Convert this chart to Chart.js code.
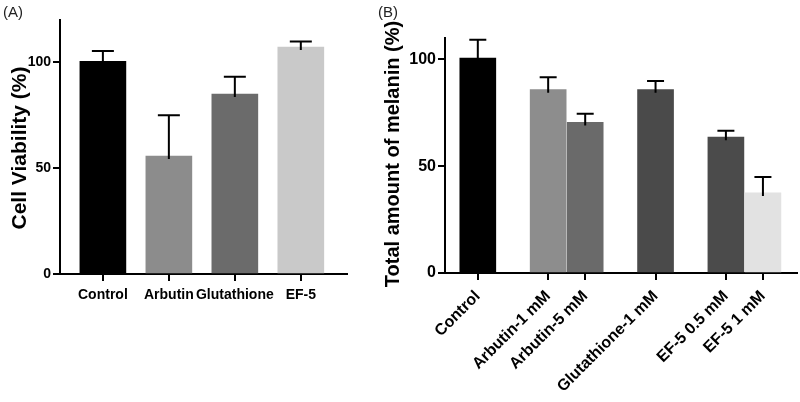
<!DOCTYPE html>
<html><head><meta charset="utf-8">
<script src="https://cdn.jsdelivr.net/npm/chart.js@4.4.1/dist/chart.umd.min.js"></script>
<style>
html,body{margin:0;padding:0;background:#fff;width:800px;height:402px;overflow:hidden;}
#wa{position:absolute;left:0;top:0;width:380px;height:402px;}
#wb{position:absolute;left:380px;top:0;width:420px;height:402px;}
.lab{position:absolute;font:15px 'Liberation Sans',Arial,sans-serif;color:#222;}
</style></head><body>
<div id="wa"><canvas id="ca"></canvas></div>
<div id="wb"><canvas id="cb"></canvas></div>
<div class="lab" style="left:3px;top:3px">(A)</div>
<div class="lab" style="left:378px;top:3px">(B)</div>
<script>
// ---- Data: panel A ----
const categoriesA = ['Control', 'Arbutin', 'Glutathione', 'EF-5'];
const viabilityA = [100.5, 55.7, 85.0, 107.2];
const viabilityErrA = [4.8, 19.3, 8.2, 2.6];
const yTicksA = [0, 50, 100];

// ---- Data: panel B ----
const categoriesB = ['Control', 'Arbutin-1 mM', 'Arbutin-5 mM', 'Glutathione-1 mM', 'EF-5 0.5 mM', 'EF-5 1 mM'];
const melaninB = [100.6, 85.8, 70.5, 85.8, 63.6, 37.5];
const melaninErrB = [8.6, 5.8, 4.0, 4.1, 3.0, 7.4];
const groupB = [0, 1, 1, 2, 3, 3];
const yTicksB = [0, 50, 100];

// ---- Styles ----
const colorsA = ['#000000', '#8c8c8c', '#6b6b6b', '#c9c9c9'];
const colorsB = ['#000000', '#8d8d8d', '#6a6a6a', '#4a4a4a', '#4b4b4b', '#e2e2e2'];
const FONT = "'Liberation Sans', Arial, sans-serif";
const GROUP_GAP = 0.9;

const errPlugin = {
  id: 'errbars',
  afterDatasetsDraw(chart) {
    const ds = chart.data.datasets[0];
    const meta = chart.getDatasetMeta(0);
    const ys = chart.scales.y;
    const ctx = chart.ctx;
    ctx.save();
    ctx.strokeStyle = '#000';
    ctx.lineWidth = 2;
    meta.data.forEach((bar, i) => {
      const v = ds.data[i].y, e = ds.errors[i];
      const x = bar.x;
      const yTop = ys.getPixelForValue(v + e);
      const yV = ys.getPixelForValue(v);
      ctx.beginPath();
      ctx.moveTo(x, yV + 3); ctx.lineTo(x, yTop);
      ctx.moveTo(x - ds.cap / 2, yTop); ctx.lineTo(x + ds.cap / 2, yTop);
      ctx.stroke();
    });
    ctx.restore();
  }
};

// rotated y-axis title drawn at a chosen place in the left margin
const yTitlePlugin = {
  id: 'ytitle',
  afterDraw(chart) {
    const t = chart.config.options.yTitleCfg;
    const ctx = chart.ctx;
    ctx.save();
    ctx.translate(t.x, t.y);
    ctx.rotate(-Math.PI / 2);
    ctx.font = 'bold ' + t.size + 'px ' + FONT;
    ctx.fillStyle = '#000';
    ctx.textAlign = 'center';
    ctx.textBaseline = 'middle';
    ctx.fillText(t.text, 0, 0);
    ctx.restore();
  }
};

function axisGrid() {
  return { display: true, offset: false, drawOnChartArea: false, drawTicks: true, tickLength: 7, lineWidth: 2, color: '#000' };
}

function makeChart(el, cfg) {
  return new Chart(el, {
    type: 'bar',
    data: { datasets: [{
      data: cfg.cats.map((c, i) => ({ x: cfg.pos[i], y: cfg.vals[i] })),
      backgroundColor: cfg.colors, borderWidth: 0, barThickness: cfg.barW,
      errors: cfg.errs, cap: cfg.cap
    }] },
    options: {
      responsive: true, maintainAspectRatio: false, animation: false,
      layout: { padding: cfg.padding },
      yTitleCfg: cfg.ytitle,
      plugins: { legend: { display: false }, tooltip: { enabled: false } },
      scales: {
        x: {
          type: 'linear', offset: false, min: cfg.xmin, max: cfg.xmax,
          afterBuildTicks: s => { s.ticks = cfg.pos.map(p => ({ value: p })); },
          afterFit: s => { s.height = cfg.xh; s.paddingLeft = 0; s.paddingRight = 0; },
          grid: axisGrid(),
          border: { display: true, width: 2, color: '#000' },
          ticks: { autoSkip: false, maxRotation: cfg.rot, minRotation: cfg.rot, padding: cfg.xpad, color: '#000',
            font: { family: FONT, size: cfg.xfont, weight: 'bold' }, callback: (v, i) => cfg.cats[i] }
        },
        y: {
          min: 0, max: cfg.ymax,
          afterBuildTicks: s => { s.ticks = cfg.yticks.map(v => ({ value: v })); },
          afterFit: s => { s.width = cfg.yw; },
          grid: axisGrid(),
          border: { display: true, width: 2, color: '#000' },
          ticks: { padding: 2, color: '#000', font: { family: FONT, size: cfg.yfont, weight: 'bold' } },
          title: { display: false }
        }
      }
    },
    plugins: [errPlugin, yTitlePlugin]
  });
}

makeChart(document.getElementById('ca'), {
  cats: categoriesA, vals: viabilityA, errs: viabilityErrA, colors: colorsA,
  pos: categoriesA.map((c, i) => i), xmin: -0.65, xmax: 3.7, barW: 46, cap: 22,
  padding: { top: 20, right: 33, left: 0, bottom: 0 }, xh: 128, yw: 60, ymax: 120,
  yticks: yTicksA, rot: 0, xfont: 14, xpad: 6, yfont: 14,
  ytitle: { text: 'Cell Viability (%)', x: 20, y: 148, size: 21 }
});

makeChart(document.getElementById('cb'), {
  cats: categoriesB, vals: melaninB, errs: melaninErrB, colors: colorsB,
  pos: categoriesB.map((c, i) => i + groupB[i] * GROUP_GAP), xmin: -0.886, xmax: 8.62, barW: 36, cap: 17,
  padding: { top: 38, right: 3, left: 0, bottom: 0 }, xh: 129, yw: 65, ymax: 110,
  yticks: yTicksB, rot: 45, xfont: 16, xpad: 7, yfont: 16,
  ytitle: { text: 'Total amount of melanin (%)', x: 13, y: 154, size: 20 }
});
</script>
</body></html>
